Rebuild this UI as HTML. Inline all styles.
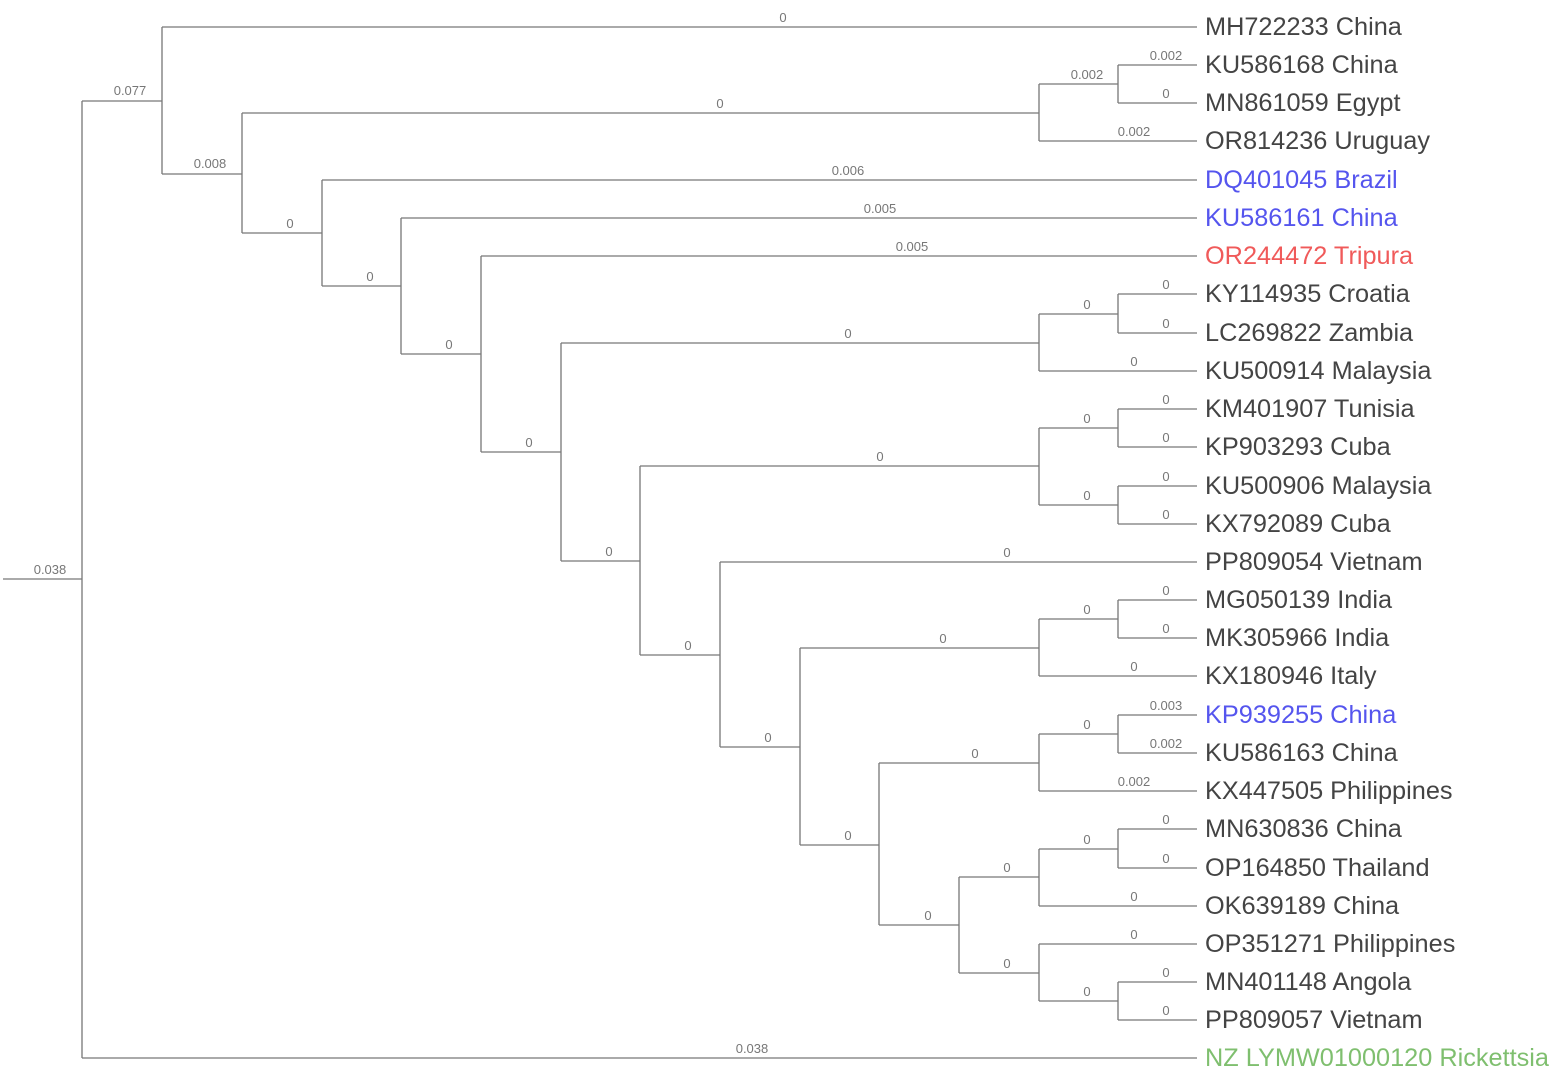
<!DOCTYPE html>
<html><head><meta charset="utf-8"><style>
html,body{margin:0;padding:0;background:#fff;}
svg{display:block;}
.l{font-family:"Liberation Sans",sans-serif;font-size:25.3px;fill:#444;dominant-baseline:central;}
.b{font-family:"Liberation Sans",sans-serif;font-size:13px;fill:#777;text-anchor:middle;}
</style></head><body>
<svg width="1559" height="1088" viewBox="0 0 1559 1088" xmlns="http://www.w3.org/2000/svg">
<g stroke="#777" stroke-width="1.3" fill="none">
<path d="M3 579H82 M82 101V1058 M82 101H162 M82 1058H1197
M162 27V174 M162 27H1197 M162 174H242
M242 113V233 M242 113H1039 M242 233H322
M1039 84V141 M1039 84H1118 M1039 141H1197 M1118 65V103 M1118 65H1197 M1118 103H1197
M322 180V286 M322 180H1197 M322 286H401
M401 218V354 M401 218H1197 M401 354H481
M481 256V452 M481 256H1197 M481 452H561
M561 343V561 M561 343H1039 M561 561H640
M1039 314V371 M1039 314H1118 M1039 371H1197 M1118 294V333 M1118 294H1197 M1118 333H1197
M640 466V655 M640 466H1039 M640 655H720
M1039 428V505 M1039 428H1118 M1039 505H1118
M1118 409V447 M1118 409H1197 M1118 447H1197 M1118 486V524 M1118 486H1197 M1118 524H1197
M720 562V747 M720 562H1197 M720 747H800
M800 648V845 M800 648H1039 M800 845H879
M1039 619V676 M1039 619H1118 M1039 676H1197 M1118 600V638 M1118 600H1197 M1118 638H1197
M879 763V925 M879 763H1039 M879 925H959
M1039 734V791 M1039 734H1118 M1039 791H1197 M1118 715V753 M1118 715H1197 M1118 753H1197
M959 877V973 M959 877H1039 M959 973H1039
M1039 849V906 M1039 849H1118 M1039 906H1197 M1118 829V868 M1118 829H1197 M1118 868H1197
M1039 944V1001 M1039 944H1197 M1039 1001H1118 M1118 982V1020 M1118 982H1197 M1118 1020H1197"/>
</g>
<g class="b">
<text x="50" y="574">0.038</text>
<text x="130" y="95">0.077</text>
<text x="783" y="22">0</text>
<text x="210" y="168">0.008</text>
<text x="720" y="108">0</text>
<text x="1087" y="79">0.002</text>
<text x="1166" y="60">0.002</text>
<text x="1166" y="98">0</text>
<text x="1134" y="136">0.002</text>
<text x="290" y="228">0</text>
<text x="848" y="175">0.006</text>
<text x="370" y="281">0</text>
<text x="880" y="213">0.005</text>
<text x="449" y="349">0</text>
<text x="912" y="251">0.005</text>
<text x="529" y="447">0</text>
<text x="848" y="338">0</text>
<text x="1087" y="309">0</text>
<text x="1166" y="289">0</text>
<text x="1166" y="328">0</text>
<text x="1134" y="366">0</text>
<text x="609" y="556">0</text>
<text x="880" y="461">0</text>
<text x="1087" y="423">0</text>
<text x="1087" y="500">0</text>
<text x="1166" y="404">0</text>
<text x="1166" y="442">0</text>
<text x="1166" y="481">0</text>
<text x="1166" y="519">0</text>
<text x="688" y="650">0</text>
<text x="1007" y="557">0</text>
<text x="768" y="742">0</text>
<text x="943" y="643">0</text>
<text x="1087" y="614">0</text>
<text x="1166" y="595">0</text>
<text x="1166" y="633">0</text>
<text x="1134" y="671">0</text>
<text x="848" y="840">0</text>
<text x="975" y="758">0</text>
<text x="1087" y="729">0</text>
<text x="1166" y="710">0.003</text>
<text x="1166" y="748">0.002</text>
<text x="1134" y="786">0.002</text>
<text x="928" y="920">0</text>
<text x="1007" y="872">0</text>
<text x="1087" y="844">0</text>
<text x="1166" y="824">0</text>
<text x="1166" y="863">0</text>
<text x="1134" y="901">0</text>
<text x="1007" y="968">0</text>
<text x="1134" y="939">0</text>
<text x="1087" y="996">0</text>
<text x="1166" y="977">0</text>
<text x="1166" y="1015">0</text>
<text x="752" y="1053">0.038</text>
</g>
<g class="l">
<text x="1205" y="27">MH722233 China</text>
<text x="1205" y="65">KU586168 China</text>
<text x="1205" y="103">MN861059 Egypt</text>
<text x="1205" y="141">OR814236 Uruguay</text>
<text x="1205" y="180" style="fill:#5555ee">DQ401045 Brazil</text>
<text x="1205" y="218" style="fill:#5555ee">KU586161 China</text>
<text x="1205" y="256" style="fill:#f05a5a">OR244472 Tripura</text>
<text x="1205" y="294">KY114935 Croatia</text>
<text x="1205" y="333">LC269822 Zambia</text>
<text x="1205" y="371">KU500914 Malaysia</text>
<text x="1205" y="409">KM401907 Tunisia</text>
<text x="1205" y="447">KP903293 Cuba</text>
<text x="1205" y="486">KU500906 Malaysia</text>
<text x="1205" y="524">KX792089 Cuba</text>
<text x="1205" y="562">PP809054 Vietnam</text>
<text x="1205" y="600">MG050139 India</text>
<text x="1205" y="638">MK305966 India</text>
<text x="1205" y="676">KX180946 Italy</text>
<text x="1205" y="715" style="fill:#5555ee">KP939255 China</text>
<text x="1205" y="753">KU586163 China</text>
<text x="1205" y="791">KX447505 Philippines</text>
<text x="1205" y="829">MN630836 China</text>
<text x="1205" y="868">OP164850 Thailand</text>
<text x="1205" y="906">OK639189 China</text>
<text x="1205" y="944">OP351271 Philippines</text>
<text x="1205" y="982">MN401148 Angola</text>
<text x="1205" y="1020">PP809057 Vietnam</text>
<text x="1205" y="1058" style="fill:#7fbf6f">NZ LYMW01000120 Rickettsia</text>
</g>
</svg>
</body></html>
